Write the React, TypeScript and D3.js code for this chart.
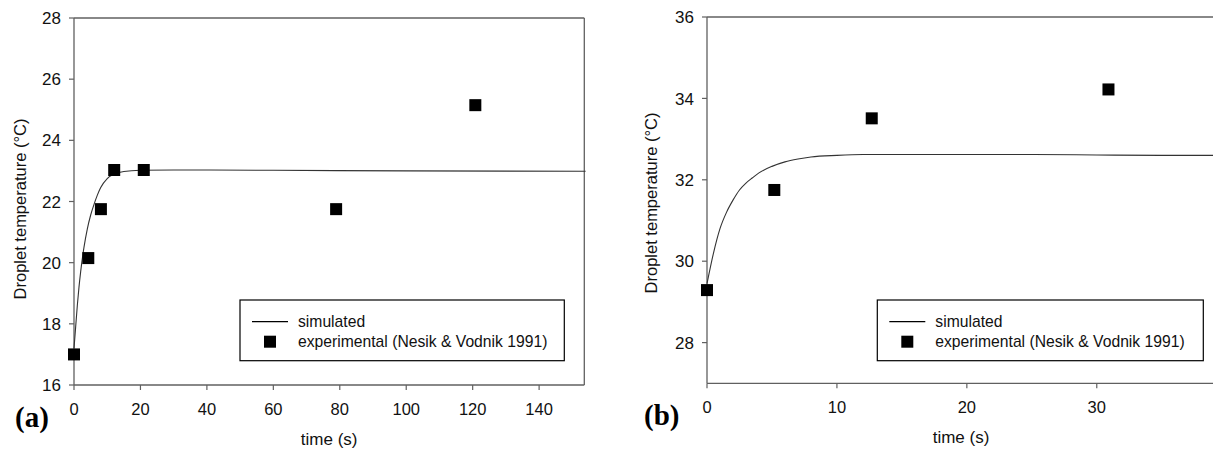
import React from "react";
import * as d3 from "d3";

// ---- Panel (a) data ----
const aSimTime = [0, 0.5, 1, 1.5, 2, 3, 4, 5, 6, 7, 8, 10, 12, 15, 20, 30, 60, 100, 154];
const aSimTemp = [17.2, 17.9, 18.6, 19.2, 19.7, 20.5, 21.1, 21.55, 21.9, 22.2, 22.45, 22.75, 22.9, 22.98, 23.02, 23.03, 23.02, 23.0, 22.99];
const aExpTime = [0, 4.3, 8.1, 12.1, 21.0, 78.9, 120.8];
const aExpTemp = [17.0, 20.15, 21.75, 23.03, 23.03, 21.75, 25.15];
const aXTicks = [0, 20, 40, 60, 80, 100, 120, 140];
const aYTicks = [16, 18, 20, 22, 24, 26, 28];

// ---- Panel (b) data ----
const bSimTime = [0, 0.5, 1, 1.5, 2, 2.5, 3, 3.5, 4, 5, 6, 7, 8, 10, 12, 15, 20, 25, 30, 35, 40];
const bSimTemp = [29.45, 30.2, 30.8, 31.2, 31.5, 31.75, 31.92, 32.05, 32.17, 32.33, 32.44, 32.51, 32.56, 32.6, 32.62, 32.62, 32.62, 32.62, 32.61, 32.6, 32.6];
const bExpTime = [0, 5.18, 12.68, 30.9];
const bExpTemp = [29.29, 31.75, 33.51, 34.22];
const bXTicks = [0, 10, 20, 30];
const bYTicks = [28, 30, 32, 34, 36];

const legendLabels = ["simulated", "experimental (Nesik & Vodnik 1991)"];
const yTitle = "Droplet temperature (°C)";
const xTitle = "time (s)";

const SANS = "'Liberation Sans', Arial, sans-serif";
const AXIS = "#606060";

type PanelProps = {
  x0: number; x1: number; y0: number; y1: number;
  xDomain: [number, number]; yDomain: [number, number];
  simT: number[]; simV: number[]; expT: number[]; expV: number[];
  xTicks: number[]; yTicks: number[];
  box: boolean;
  legend: { x: number; y: number; w: number; h: number };
  letter: string; letterX: number;
  yTitleX: number; yTitleY: number;
  xTitleY: number;
};

function Panel(p: PanelProps) {
  const x = d3.scaleLinear().domain(p.xDomain).range([p.x0, p.x1]);
  const y = d3.scaleLinear().domain(p.yDomain).range([p.y1, p.y0]);
  const line = d3
    .line<number>()
    .x((_, i) => x(p.simT[i]))
    .y((v) => y(v))
    .curve(d3.curveMonotoneX);
  const sq = 12;
  const L = p.legend;
  return (
    <g>
      {/* frame */}
      <line x1={p.x0} x2={p.x0} y1={p.y0} y2={p.y1} stroke={AXIS} strokeWidth={1.3} />
      <line x1={p.x0} x2={p.x1} y1={p.y1} y2={p.y1} stroke={AXIS} strokeWidth={1.3} />
      <line x1={p.x0} x2={p.x1} y1={p.y0} y2={p.y0} stroke={AXIS} strokeWidth={1.3} />
      {p.box && <line x1={p.x1} x2={p.x1} y1={p.y0} y2={p.y1} stroke={AXIS} strokeWidth={1.3} />}
      {/* y ticks */}
      {p.yTicks.map((t) => (
        <g key={"y" + t}>
          <line x1={p.x0 - 5} x2={p.x0} y1={y(t)} y2={y(t)} stroke={AXIS} strokeWidth={1.2} />
          <text x={p.x0 - 13} y={y(t)} dy="0.36em" textAnchor="end" fontFamily={SANS} fontSize={17} fill="#111">
            {t}
          </text>
        </g>
      ))}
      {/* x ticks */}
      {p.xTicks.map((t) => (
        <g key={"x" + t}>
          <line x1={x(t)} x2={x(t)} y1={p.y1} y2={p.y1 + 5} stroke={AXIS} strokeWidth={1.2} />
          <text x={x(t)} y={p.y1 + 30} textAnchor="middle" fontFamily={SANS} fontSize={16.5} fill="#111">
            {t}
          </text>
        </g>
      ))}
      {/* titles */}
      <text
        transform={`translate(${p.yTitleX},${p.yTitleY}) rotate(-90)`}
        textAnchor="middle"
        fontFamily={SANS}
        fontSize={16.5}
        fill="#111"
      >
        {yTitle}
      </text>
      <text x={(p.x0 + p.x1) / 2} y={p.xTitleY} textAnchor="middle" fontFamily={SANS} fontSize={17} fill="#111">
        {xTitle}
      </text>
      <text x={p.letterX} y={p.y1 + 42} fontFamily="'Liberation Serif', 'Times New Roman', serif" fontWeight="bold" fontSize={29} fill="#000">
        {p.letter}
      </text>
      {/* simulated line */}
      <path d={line(p.simV) || ""} fill="none" stroke="#333" strokeWidth={1.1} />
      {/* experimental points */}
      {p.expT.map((t, i) => (
        <rect key={"p" + i} x={x(t) - sq / 2} y={y(p.expV[i]) - sq / 2} width={sq} height={sq} fill="#000" />
      ))}
      {/* legend */}
      <rect x={L.x} y={L.y} width={L.w} height={L.h} fill="#fff" stroke="#000" strokeWidth={1.2} />
      <line x1={L.x + 12} x2={L.x + 48} y1={L.y + 21.7} y2={L.y + 21.7} stroke="#000" strokeWidth={1.2} />
      <text x={L.x + 58} y={L.y + 27} fontFamily={SANS} fontSize={15.7} fill="#111">
        {legendLabels[0]}
      </text>
      <rect x={L.x + 30 - 6} y={L.y + 41.7 - 6} width={12} height={12} fill="#000" />
      <text x={L.x + 58} y={L.y + 47.3} fontFamily={SANS} fontSize={15.7} fill="#111">
        {legendLabels[1]}
      </text>
    </g>
  );
}

export default function App() {
  return (
    <svg
      width={1213}
      height={450}
      style={{ position: "absolute", left: 0, top: 0, background: "#fff" }}
    >
      <defs>
        <clipPath id="clipAll">
          <rect x={0} y={0} width={1213} height={450} />
        </clipPath>
      </defs>
      <g clipPath="url(#clipAll)">
        <Panel
          x0={74} x1={584.3} y0={18} y1={385}
          xDomain={[0, 153.6]} yDomain={[16, 28]}
          simT={aSimTime} simV={aSimTemp} expT={aExpTime} expV={aExpTemp}
          xTicks={aXTicks} yTicks={aYTicks}
          box={true}
          legend={{ x: 240, y: 300, w: 324.3, h: 60.7 }}
          letter="(a)" letterX={15}
          yTitleX={26} yTitleY={209}
          xTitleY={445}
        />
        <Panel
          x0={707} x1={1215} y0={17} y1={383.3}
          xDomain={[0, 39.1]} yDomain={[27, 36]}
          simT={bSimTime} simV={bSimTemp} expT={bExpTime} expV={bExpTemp}
          xTicks={bXTicks} yTicks={bYTicks}
          box={false}
          legend={{ x: 877.3, y: 300, w: 326, h: 60.7 }}
          letter="(b)" letterX={644}
          yTitleX={657} yTitleY={203}
          xTitleY={443}
        />
      </g>
    </svg>
  );
}
